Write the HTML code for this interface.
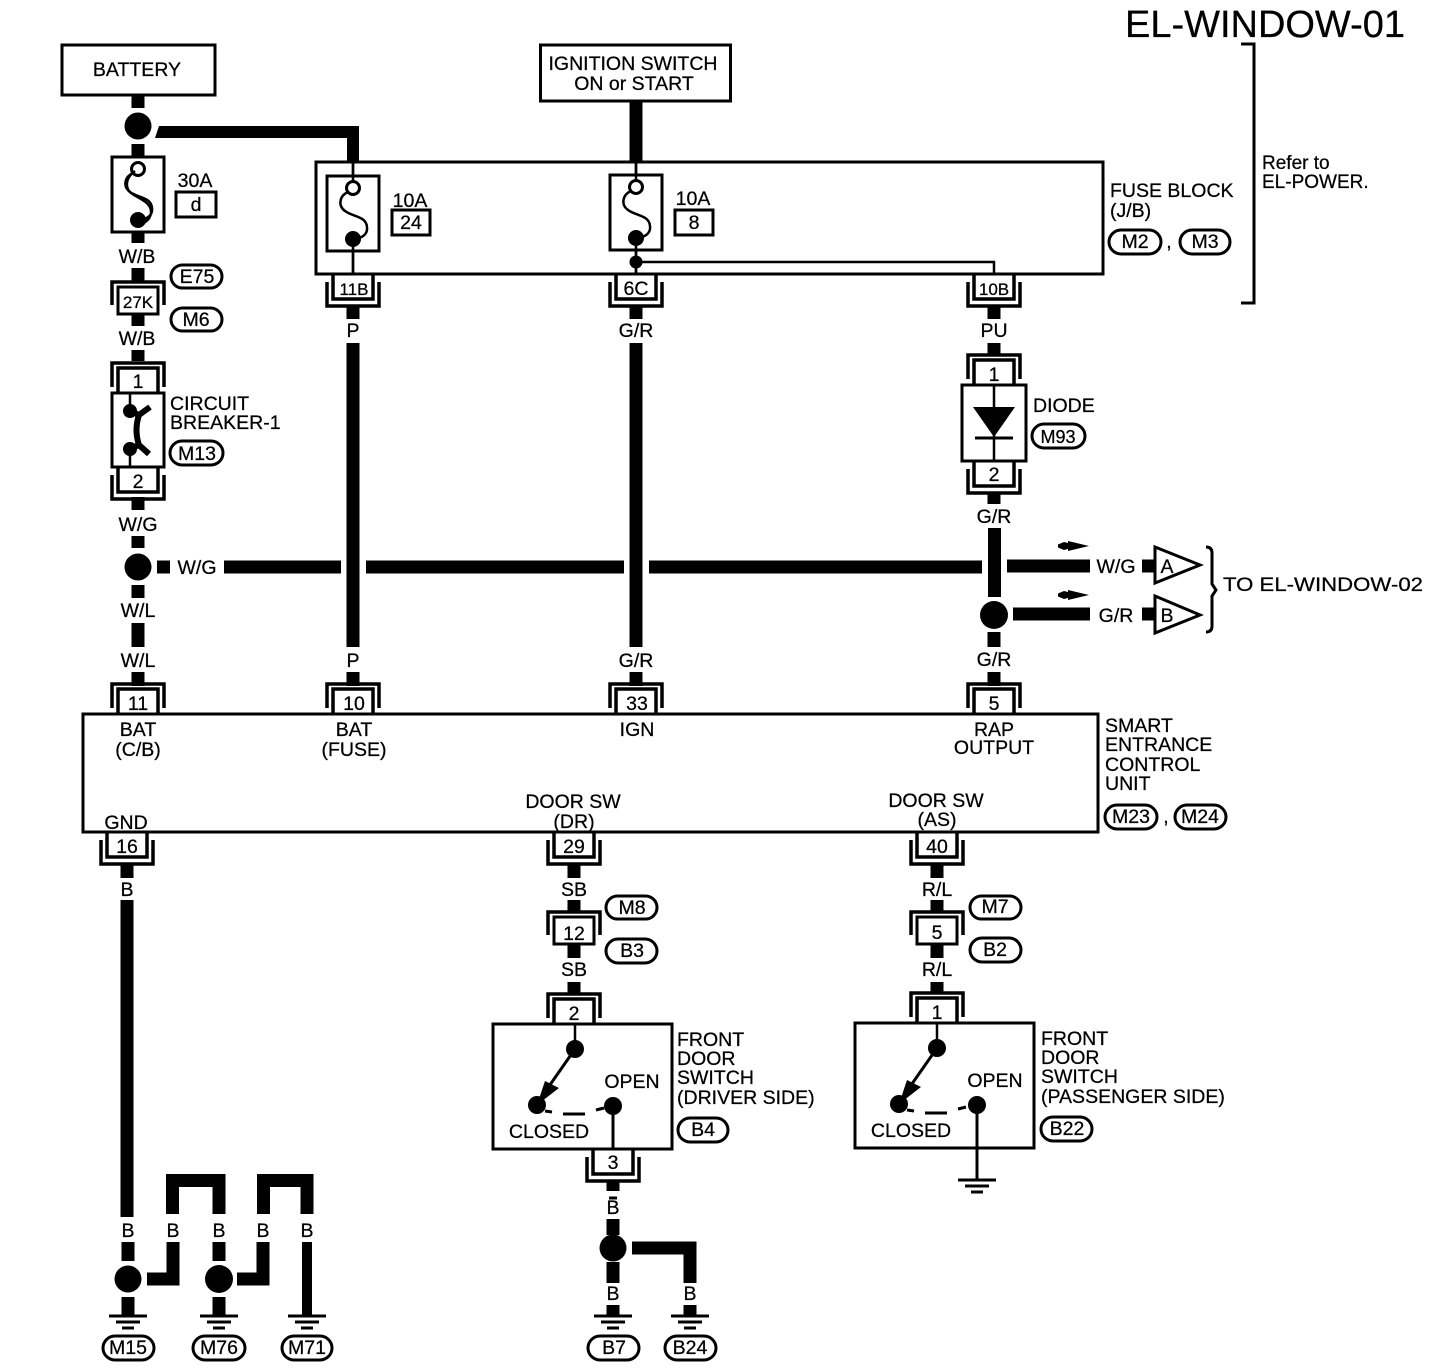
<!DOCTYPE html>
<html><head><meta charset="utf-8"><title>EL-WINDOW-01</title>
<style>
html,body{margin:0;padding:0;background:#fff}
svg{display:block}
text{font-family:"Liberation Sans",sans-serif;font-size:19.5px;fill:#000;stroke:#000;stroke-width:.25;text-anchor:middle}
.l{text-anchor:start}
.b{fill:none;stroke:#000;stroke-width:3}
.c{fill:none;stroke:#000;stroke-width:3.5}
.t{fill:none;stroke:#000;stroke-width:2.5}
.w{fill:none;stroke:#000;stroke-width:13}
.f{fill:#000;stroke:none}
.o{fill:#fff;stroke:#000;stroke-width:3}
</style></head><body>
<svg width="1440" height="1370" viewBox="0 0 1440 1370" xmlns="http://www.w3.org/2000/svg">
<defs>
<g id="cd"><path class="c" d="M-20 0V25H20V0M-26 8V32H26V8"/></g>
<g id="cu"><path class="c" d="M-20 0V-25H20V0M-26 -6V-30H26V-6"/></g>
<g id="cj"><path class="c" d="M-26 23V0H26V23"/><rect class="b" x="-20" y="5" width="40" height="27" stroke-width="4"/></g>
<g id="fuse"><rect class="b" x="-26" y="-12" width="52" height="75" style="fill:#fff"/><circle cx="0" cy="0" r="6.5" fill="#fff" stroke="#000" stroke-width="3"/><path class="t" d="M-5 4C-14 8 -15 18 -8 23C0 29 13 28 14 39C15 47 8 50 2 51"/><circle class="f" cx="0" cy="51" r="8"/></g>
<g id="gnd"><path fill="none" stroke="#000" stroke-width="3" d="M-19 0H19M-12 6H12M-6 12H6"/></g>
<g id="arr"><path class="f" d="M0 -1.5L6 -4L10 -3V-5L31 0L10 5V3L6 4L0 1.500Z"/></g>
</defs>

<text x="1265" y="37" style="font-size:38px" textLength="280" lengthAdjust="spacingAndGlyphs">EL-WINDOW-01</text>

<!-- Top boxes -->
<rect class="b" x="62" y="45" width="153" height="50"/>
<text x="137" y="76">BATTERY</text>
<rect class="b" x="540.500" y="45" width="190" height="56"/>
<text x="633" y="70">IGNITION SWITCH</text>
<text x="634" y="90">ON or START</text>

<!-- Refer bracket -->
<path class="b" d="M1241 44H1254V303H1241"/>
<text class="l" x="1262" y="169" style="font-size:19px">Refer to</text>
<text class="l" x="1262" y="188" style="font-size:19px">EL-POWER.</text>

<!-- Column 138 -->
<path class="w" d="M138 96V108M138 144V156M138 232V243M138 268V282M138 313V326M138 350V361M138 497V510M138 536V548M138 585V598M138 623V647M138 672V686"/>
<circle class="f" cx="138" cy="126" r="13.500"/>
<use href="#fuse" x="138" y="169"/>
<path class="t" d="M135 171C125 178 125 188 131 193C139 199 152 202 151 213C150 220 145 222 142 224"/>
<text x="195" y="187">30A</text><rect class="b" x="176" y="192" width="40" height="25"/><text x="196" y="211">d</text>
<text x="137" y="263">W/B</text>
<rect class="o" x="171" y="265" width="51" height="23" rx="11.500"/><text x="197" y="283">E75</text>
<use href="#cj" x="138" y="282"/><text x="138" y="308" style="font-size:17px">27K</text>
<rect class="o" x="171" y="308" width="51" height="23" rx="11.500"/><text x="196" y="326">M6</text>
<text x="137" y="345">W/B</text>

<use href="#cu" x="138" y="393"/><text x="138" y="388">1</text>
<rect class="b" x="112" y="393" width="52" height="74"/>
<path class="t" d="M130 393V411M130 449V467"/>
<circle class="f" cx="130" cy="411" r="7"/><circle class="f" cx="130" cy="449" r="7"/>
<path fill="none" stroke="#000" stroke-width="6" d="M150 407L139 415Q134 430 139 445L149 454M130 411L139 415M130 449L139 445"/>
<text class="l" x="170" y="410">CIRCUIT</text><text class="l" x="170" y="429">BREAKER-1</text>
<rect class="o" x="170" y="441" width="53" height="24" rx="12"/><text x="197" y="460">M13</text>
<use href="#cd" x="138" y="467"/><text x="138" y="488">2</text>
<text x="138" y="531">W/G</text>
<circle class="f" cx="138" cy="567" r="13.500"/>
<text x="197" y="574">W/G</text>
<text x="138" y="617">W/L</text>
<text x="138" y="667">W/L</text>
<use href="#cu" x="138" y="714"/><text x="138" y="710">11</text>

<!-- Horizontal W/G -->
<path class="w" d="M157 567H170M224 567H341M366 567H624M649 567H982M1007 566H1090"/>
<path class="f" d="M159 126H359V162H347V138H155Z"/>

<!-- Fuse block -->
<rect class="b" x="316" y="162" width="787" height="112"/>
<text class="l" x="1110" y="197">FUSE BLOCK</text><text class="l" x="1110" y="217">(J/B)</text>
<rect class="o" x="1109" y="230" width="52" height="24" rx="12"/><text x="1135" y="248">M2</text>
<text x="1169" y="248">,</text>
<rect class="o" x="1180" y="230" width="50" height="24" rx="12"/><text x="1205" y="248">M3</text>

<path class="t" d="M353 162V274M636 162V274"/>
<use href="#fuse" x="353" y="188"/><path class="t" d="M353 162V181M353 246V274"/>
<text x="410" y="207">10A</text><rect class="b" x="392" y="210" width="38" height="25"/><text x="411" y="229">24</text>
<use href="#fuse" x="636" y="187"/><path class="t" d="M636 162V181M636 245V274"/>
<text x="693" y="205">10A</text><rect class="b" x="675" y="210" width="38" height="25"/><text x="694" y="229">8</text>
<circle class="f" cx="636" cy="262" r="6.500"/>
<path class="t" d="M636 262H994V274"/>

<path class="w" d="M636 101V162"/>
<use href="#cd" x="353" y="274"/><text x="354" y="295" style="font-size:17px">11B</text>
<use href="#cd" x="636" y="274"/><text x="636" y="295">6C</text>
<use href="#cd" x="994" y="274"/><text x="994" y="295" style="font-size:17px">10B</text>
<text x="353" y="337">P</text><text x="636" y="337">G/R</text><text x="994" y="337">PU</text>
<path class="w" d="M353 306V319M636 306V319M994 306V319"/>
<path class="w" d="M353 343V647" stroke-width="14"/><path class="w" d="M636 343V647"/>
<path class="w" d="M353 672V686M636 672V686M994 343V354M994 492V504M994.500 528V597M994 632V647M994 672V686"/>
<text x="353" y="667">P</text><text x="636" y="667">G/R</text>
<use href="#cu" x="353" y="714"/><text x="354" y="710">10</text>
<use href="#cu" x="636" y="714"/><text x="637" y="710">33</text>

<!-- Diode -->
<use href="#cu" x="994" y="385"/><text x="994" y="381">1</text>
<rect class="b" x="962" y="385" width="64" height="76"/>
<path class="t" d="M994 385V461"/>
<path class="f" d="M973 407H1015L994 437Z"/>
<path fill="none" stroke="#000" stroke-width="3" d="M975 438H1013"/>
<use href="#cd" x="994" y="461"/><text x="994" y="481">2</text>
<text class="l" x="1033" y="412">DIODE</text>
<rect class="o" x="1032" y="424" width="53" height="24" rx="12"/><text x="1058" y="443" style="font-size:18px">M93</text>
<text x="994" y="523">G/R</text>
<circle class="f" cx="994" cy="615" r="14"/>
<text x="994" y="666">G/R</text>
<use href="#cu" x="994" y="714"/><text x="994" y="710">5</text>

<!-- To EL-WINDOW-02 -->
<use href="#arr" x="1058" y="546"/><use href="#arr" x="1058" y="595"/>
<path class="w" d="M1013 614H1090M1142 566H1156M1142 614H1156"/>
<text x="1116" y="573">W/G</text><text x="1116" y="622">G/R</text>
<path class="o" d="M1155 547L1200 565L1155 583Z"/><text x="1167" y="573">A</text>
<path class="o" d="M1155 596L1200 615L1155 633Z"/><text x="1167" y="622">B</text>
<path class="b" d="M1206 547Q1212 547 1212 553V584L1216 590L1212 596V626Q1212 632 1206 632"/>
<text class="l" x="1223" y="591" textLength="200" lengthAdjust="spacingAndGlyphs">TO EL-WINDOW-02</text>

<!-- Control unit -->
<rect class="b" x="83" y="714" width="1015" height="118"/>
<text x="138" y="736">BAT</text><text x="138" y="756">(C/B)</text>
<text x="354" y="736">BAT</text><text x="354" y="756">(FUSE)</text>
<text x="637" y="736">IGN</text>
<text x="994" y="736">RAP</text><text x="994" y="754">OUTPUT</text>
<text x="126" y="829">GND</text>
<text x="573" y="808">DOOR SW</text><text x="574" y="828">(DR)</text>
<text x="936" y="807">DOOR SW</text><text x="937" y="826">(AS)</text>
<text class="l" x="1105" y="732">SMART</text><text class="l" x="1105" y="751">ENTRANCE</text>
<text class="l" x="1105" y="771">CONTROL</text><text class="l" x="1105" y="790">UNIT</text>
<rect class="o" x="1105" y="805" width="52" height="24" rx="12"/><text x="1131" y="823">M23</text>
<text x="1166" y="823">,</text>
<rect class="o" x="1175" y="805" width="51" height="24" rx="12"/><text x="1200" y="823">M24</text>

<!-- Lower connectors -->
<use href="#cd" x="127" y="832"/><text x="127" y="853">16</text>
<use href="#cd" x="574" y="832"/><text x="574" y="853">29</text>
<use href="#cd" x="937" y="832"/><text x="937" y="853">40</text>
<text x="127" y="896">B</text><text x="574" y="896">SB</text><text x="937" y="896">R/L</text>
<path class="w" d="M127 864V878M574 864V878M937 864V878M127 900V1217M574 900V913M937 900V913M574 945V958M937 945V958M574 982V994M937 982V994"/>
<use href="#cj" x="574" y="912"/><text x="574" y="940">12</text>
<use href="#cj" x="937" y="912"/><text x="937" y="939">5</text>
<rect class="o" x="606" y="896" width="51" height="23" rx="11.500"/><text x="632" y="914">M8</text>
<rect class="o" x="606" y="939" width="51" height="24" rx="12"/><text x="632" y="957">B3</text>
<rect class="o" x="970" y="896" width="51" height="23" rx="11.500"/><text x="995" y="913">M7</text>
<rect class="o" x="970" y="938" width="51" height="24" rx="12"/><text x="995" y="956">B2</text>
<text x="574" y="976">SB</text><text x="937" y="976">R/L</text>

<!-- Driver door switch -->
<use href="#cu" x="574" y="1024"/><text x="574" y="1020">2</text>
<rect class="b" x="493" y="1024" width="179" height="125"/>
<path class="t" d="M575 1024V1049"/><circle class="f" cx="575" cy="1049" r="9"/>
<path fill="none" stroke="#000" stroke-width="3" d="M575 1049L545 1092"/>
<path class="f" d="M537 1105L545 1081L559 1088Z"/><circle class="f" cx="537" cy="1105" r="9"/>
<path fill="none" stroke="#000" stroke-width="3" d="M545 1111L552 1112M563 1114H585M596 1110L604 1108M613 1106V1149"/>
<circle class="f" cx="613" cy="1106" r="9"/>
<text x="632" y="1088">OPEN</text><text x="549" y="1138">CLOSED</text>
<text class="l" x="677" y="1046">FRONT</text><text class="l" x="677" y="1065">DOOR</text>
<text class="l" x="677" y="1084">SWITCH</text><text class="l" x="677" y="1104">(DRIVER SIDE)</text>
<rect class="o" x="678" y="1118" width="50" height="24" rx="12"/><text x="703" y="1136">B4</text>
<use href="#cd" x="613" y="1149"/><text x="613" y="1169">3</text>
<path class="w" d="M613 1180V1191M613 1219V1235M613 1262V1283M613 1305V1316M690 1305V1316M632 1248H690V1283"/>
<path class="b" d="M609 1198H617"/>
<text x="613" y="1214">B</text>
<circle class="f" cx="613" cy="1248" r="13.500"/>
<text x="613" y="1300">B</text><text x="690" y="1300">B</text>
<use href="#gnd" x="613" y="1316"/><use href="#gnd" x="690" y="1316"/>
<rect class="o" x="588" y="1336" width="51" height="24" rx="12"/><text x="614" y="1354">B7</text>
<rect class="o" x="665" y="1336" width="51" height="24" rx="12"/><text x="690" y="1354">B24</text>

<!-- Passenger door switch -->
<use href="#cu" x="937" y="1023"/><text x="937" y="1019">1</text>
<rect class="b" x="855" y="1023" width="179" height="125"/>
<path class="t" d="M937 1023V1048"/><circle class="f" cx="937" cy="1048" r="9"/>
<path fill="none" stroke="#000" stroke-width="3" d="M937 1048L907 1091"/>
<path class="f" d="M899 1104L907 1080L921 1087Z"/><circle class="f" cx="899" cy="1104" r="9"/>
<path fill="none" stroke="#000" stroke-width="3" d="M907 1110L914 1111M925 1113H947M958 1109L966 1107M977 1105V1180"/>
<circle class="f" cx="977" cy="1105" r="9"/>
<text x="995" y="1087">OPEN</text><text x="911" y="1137">CLOSED</text>
<text class="l" x="1041" y="1045">FRONT</text><text class="l" x="1041" y="1064">DOOR</text>
<text class="l" x="1041" y="1083">SWITCH</text><text class="l" x="1041" y="1103">(PASSENGER SIDE)</text>
<rect class="o" x="1041" y="1117" width="51" height="24" rx="12"/><text x="1067" y="1135">B22</text>
<use href="#gnd" x="977" y="1180"/>

<!-- Bottom-left grounds -->
<path class="w" d="M172.500 1214V1180.500H219V1214M263.500 1214V1180.500H307V1214"/>
<path class="w" d="M128 1242V1261M128 1297V1316M219 1242V1261M219 1297V1316M147 1279H173V1242M237 1279H263V1242"/>
<path class="f" d="M302 1242H312V1316H302Z"/>
<text x="128" y="1237">B</text><text x="173" y="1237">B</text><text x="219" y="1237">B</text><text x="263" y="1237">B</text><text x="307" y="1237">B</text>
<circle class="f" cx="128" cy="1279" r="13.500"/><circle class="f" cx="219" cy="1279" r="14"/>
<use href="#gnd" x="128" y="1316"/><use href="#gnd" x="219" y="1316"/><use href="#gnd" x="307" y="1316"/>
<rect class="o" x="103" y="1336" width="51" height="24" rx="12"/><text x="128" y="1354">M15</text>
<rect class="o" x="193" y="1336" width="52" height="24" rx="12"/><text x="219" y="1354">M76</text>
<rect class="o" x="282" y="1336" width="50" height="24" rx="12"/><text x="307" y="1354">M71</text>
</svg>
</body></html>
